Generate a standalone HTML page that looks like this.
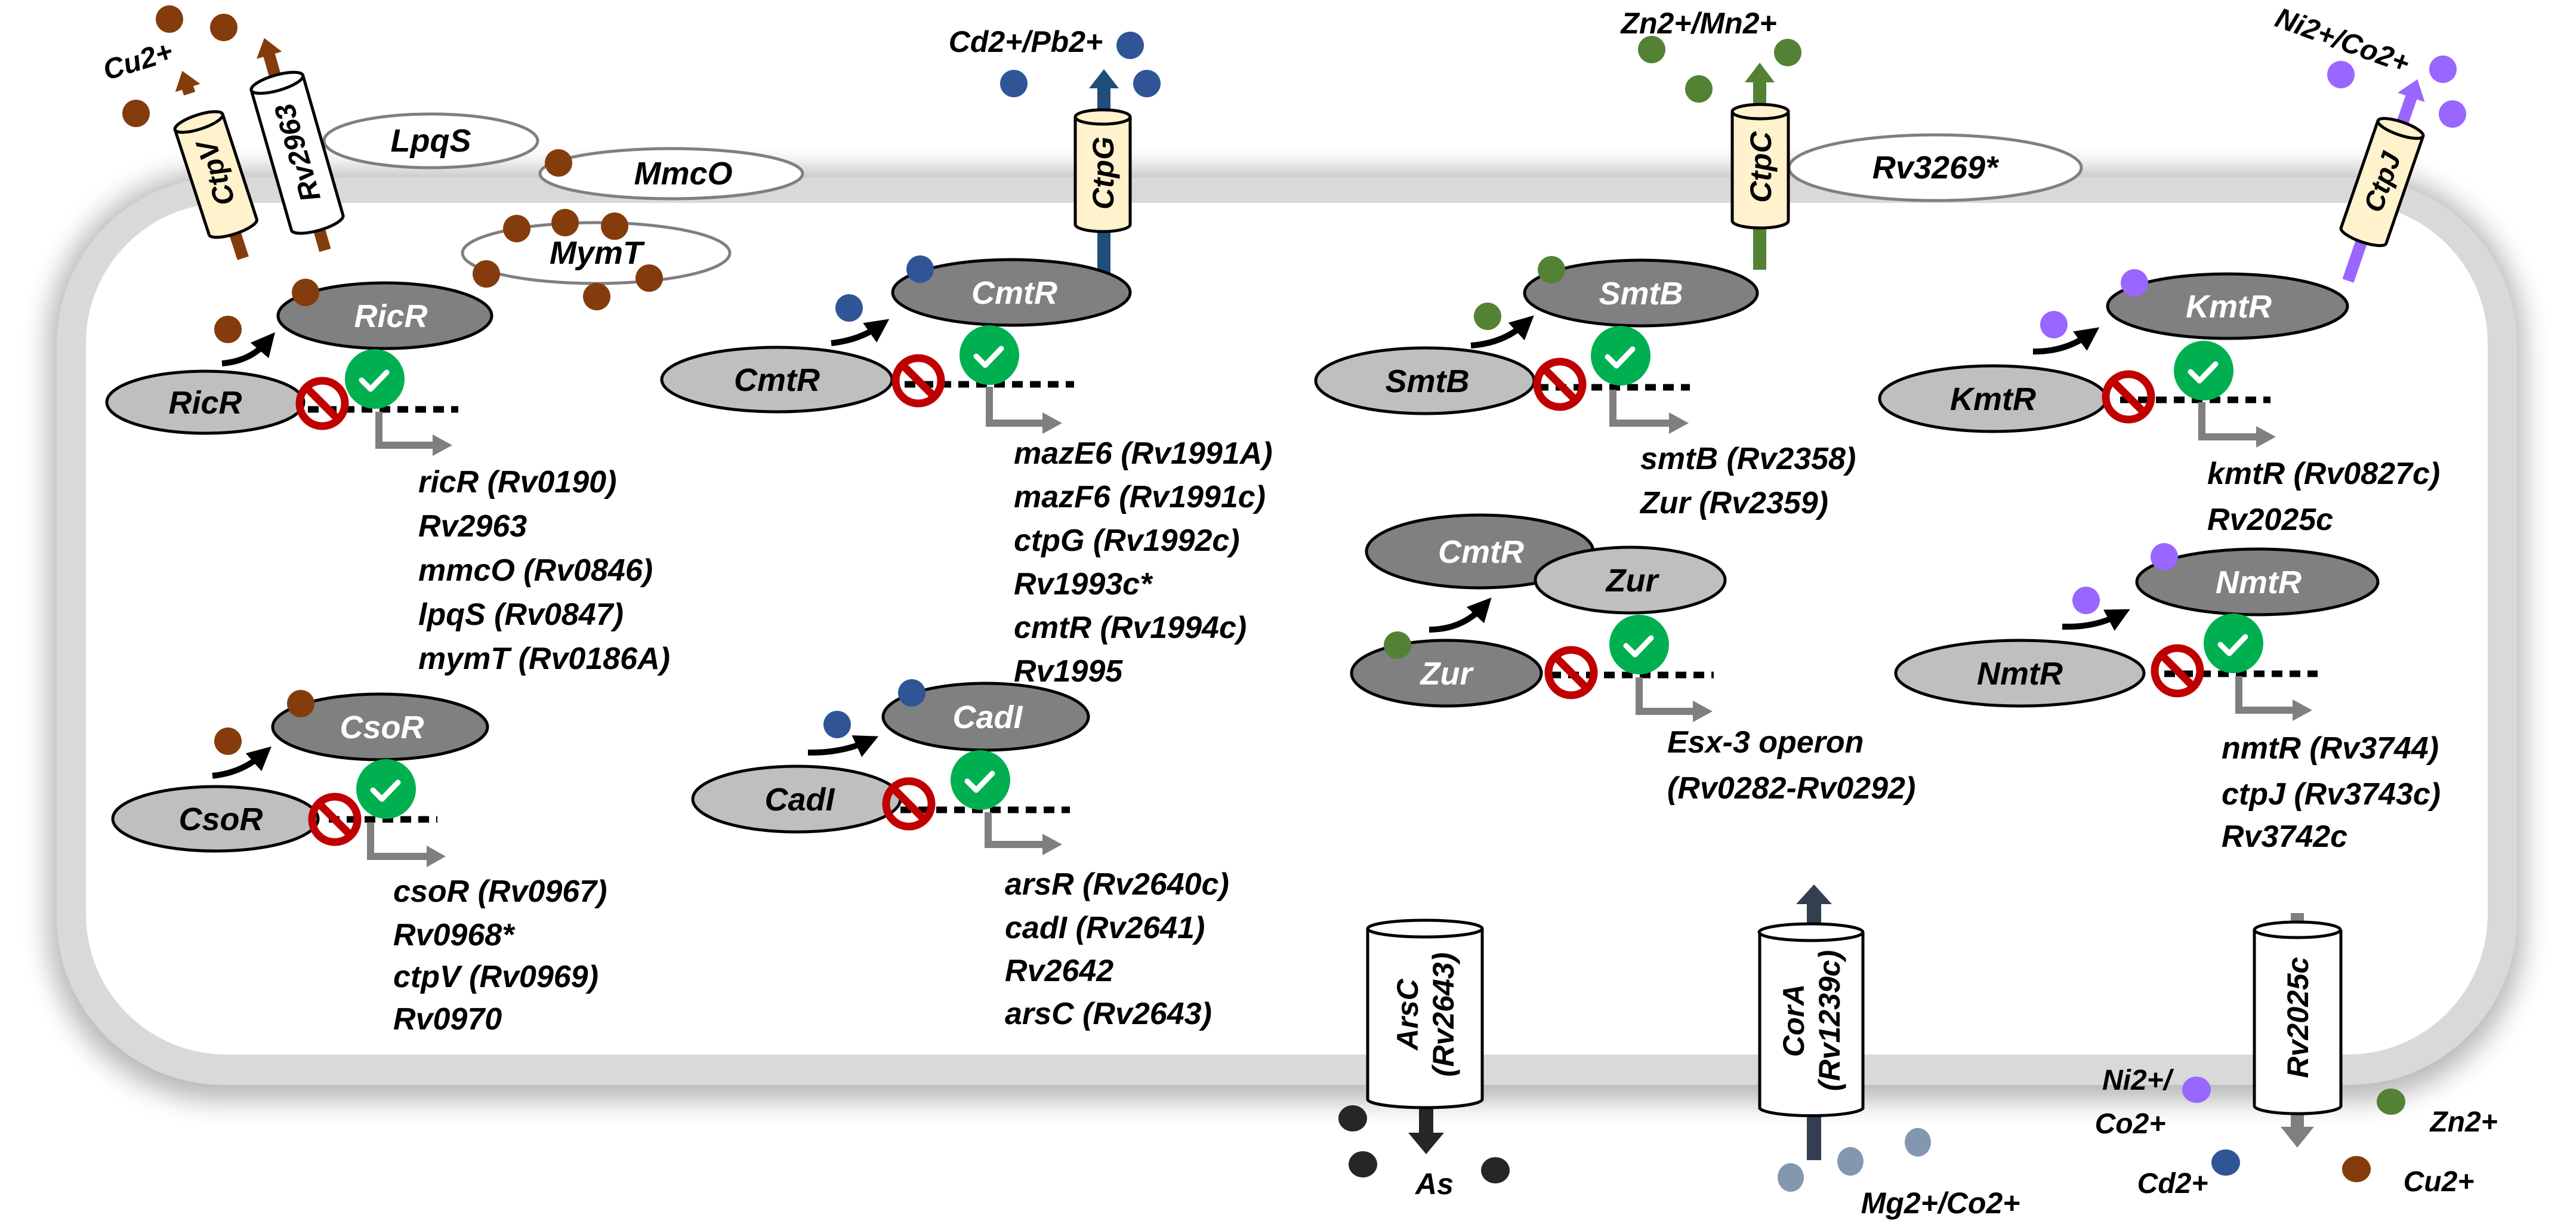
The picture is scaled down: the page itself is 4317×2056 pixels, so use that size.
<!DOCTYPE html>
<html><head><meta charset="utf-8"><style>
html,body{margin:0;padding:0;background:#fff;}
svg{display:block;}
text{font-family:"Liberation Sans",sans-serif;font-weight:bold;font-style:italic;}
.t{font-size:52px;fill:#000;}
.lw{font-size:54px;fill:#fff;text-anchor:middle;}
.lb{font-size:54px;fill:#000;text-anchor:middle;}
.dk{fill:#808080;stroke:#000;stroke-width:5;}
.lt{fill:#bfbfbf;stroke:#000;stroke-width:5;}
.dot{stroke:none;}
.dash{stroke:#000;stroke-width:11;stroke-dasharray:18 12;fill:none;}
.ns{fill:none;stroke:#c00000;stroke-width:13;}
.ck{fill:#00b050;}
.cm{fill:none;stroke:#fff;stroke-width:9;stroke-linecap:round;stroke-linejoin:round;}
.bent{fill:none;stroke:#7f7f7f;stroke-width:12;}
.curve{fill:none;stroke:#000;stroke-width:10;}
.mem{fill:#fff;stroke:#7f7f7f;stroke-width:5;}
.cyl{stroke:#000;stroke-width:5;}
</style></head><body>
<svg width="4317" height="2056" viewBox="0 0 4317 2056" xmlns="http://www.w3.org/2000/svg">
<defs>
<filter id="bl" x="-10%" y="-10%" width="120%" height="120%"><feGaussianBlur stdDeviation="22"/></filter>
<marker id="ah" markerWidth="4" markerHeight="4" refX="2" refY="2" orient="auto" markerUnits="strokeWidth"><path d="M0,0 L4,2 L0,4 z" fill="#000"/></marker>
</defs>

<!-- cell -->
<rect x="80" y="285" width="4150" height="1560" rx="290" fill="#000" opacity="0.28" filter="url(#bl)"/>
<rect x="95" y="297" width="4123" height="1521" rx="280" fill="#d9d9d9"/>
<rect x="144" y="340" width="4025" height="1427" rx="235" fill="#fff"/>

<!-- membrane ellipses -->
<ellipse class="mem" cx="722" cy="236" rx="179" ry="45"/>
<text class="lb" x="722" y="254">LpqS</text>
<ellipse class="mem" cx="1125" cy="291" rx="220" ry="42"/>
<text class="lb" x="1145" y="309">MmcO</text>
<circle class="dot" cx="936" cy="273" r="23" fill="#843c0c"/>
<ellipse class="mem" cx="999" cy="424" rx="224" ry="51"/>
<text class="lb" x="999" y="442">MymT</text>
<g fill="#843c0c"><circle cx="866" cy="383" r="23"/><circle cx="947" cy="373" r="23"/><circle cx="1030" cy="379" r="23"/><circle cx="815" cy="459" r="23"/><circle cx="1000" cy="497" r="23"/><circle cx="1088" cy="466" r="23"/></g>
<ellipse class="mem" cx="3243" cy="281" rx="245" ry="55"/>
<text class="lb" x="3243" y="299">Rv3269*</text>

<!-- Cu2+ outside -->
<text x="231" y="118" font-size="48" text-anchor="middle" transform="rotate(-17 231 102)">Cu2+</text>
<g fill="#843c0c"><circle cx="284" cy="32" r="23"/><circle cx="375" cy="46" r="23"/><circle cx="228" cy="190" r="23"/></g>

<!-- CtpV -->
<g transform="translate(361,290) rotate(-18)">
<rect x="-10" y="-60" width="20" height="210" fill="#843c0c"/>
<polygon points="-22,-150 22,-150 0,-180" fill="#843c0c"/>
<rect x="-10" y="-160" width="20" height="20" fill="#843c0c"/>
<path class="cyl" d="M-42,-90 L-42,95 A42,12 0 0 0 42,95 L42,-90" fill="#fff2cc"/>
<ellipse class="cyl" cx="0" cy="-90" rx="42" ry="12" fill="#fff2cc"/>
<text x="0" y="0" font-size="48" text-anchor="middle" transform="rotate(-90) translate(0,17)">CtpV</text>
</g>
<!-- Rv2963 -->
<g transform="translate(498,256) rotate(-16)">
<rect x="-10" y="100" width="20" height="70" fill="#843c0c"/>
<rect x="-10" y="-175" width="20" height="60" fill="#843c0c"/>
<polygon points="-22,-170 22,-170 0,-200" fill="#843c0c"/>
<path class="cyl" d="M-45,-122 L-45,122 A45,13 0 0 0 45,122 L45,-122" fill="#fff"/>
<ellipse class="cyl" cx="0" cy="-122" rx="45" ry="13" fill="#fff"/>
<text x="0" y="0" font-size="48" text-anchor="middle" transform="rotate(-90) translate(0,17)">Rv2963</text>
</g>

<!-- CtpG -->
<rect x="1839" y="140" width="22" height="323" fill="#1f4e79"/>
<polygon points="1825,148 1875,148 1850,116" fill="#1f4e79"/>
<path class="cyl" d="M1802,196 L1802,376 A46,12 0 0 0 1894,376 L1894,196" fill="#fff2cc"/>
<ellipse class="cyl" cx="1848" cy="196" rx="46" ry="12" fill="#fff2cc"/>
<text x="0" y="0" font-size="50" text-anchor="middle" transform="translate(1866,290) rotate(-90)">CtpG</text>
<text x="1719" y="87" font-size="50" text-anchor="middle">Cd2+/Pb2+</text>
<g fill="#2f5597"><circle cx="1894" cy="76" r="23"/><circle cx="1699" cy="140" r="23"/><circle cx="1922" cy="140" r="23"/></g>

<!-- CtpC -->
<rect x="2938" y="130" width="22" height="322" fill="#548235"/>
<polygon points="2924,138 2974,138 2949,105" fill="#548235"/>
<path class="cyl" d="M2903,187 L2903,370 A47,12 0 0 0 2997,370 L2997,187" fill="#fff2cc"/>
<ellipse class="cyl" cx="2950" cy="187" rx="47" ry="12" fill="#fff2cc"/>
<text x="0" y="0" font-size="50" text-anchor="middle" transform="translate(2968,280) rotate(-90)">CtpC</text>
<text x="2847" y="56" font-size="50" text-anchor="middle">Zn2+/Mn2+</text>
<g fill="#548235"><circle cx="2768" cy="83" r="23"/><circle cx="2996" cy="88" r="23"/><circle cx="2847" cy="149" r="23"/></g>

<!-- CtpJ -->
<g transform="translate(3992,305) rotate(19)">
<rect x="-10" y="-150" width="20" height="325" fill="#9966ff"/>
<polygon points="-24,-150 24,-150 0,-182" fill="#9966ff"/>
<path class="cyl" d="M-40,-95 L-40,95 A40,11 0 0 0 40,95 L40,-95" fill="#fff2cc"/>
<ellipse class="cyl" cx="0" cy="-95" rx="40" ry="11" fill="#fff2cc"/>
<text x="0" y="0" font-size="46" text-anchor="middle" transform="rotate(-90) translate(0,16)">CtpJ</text>
</g>
<text x="3926" y="84" font-size="48" text-anchor="middle" transform="rotate(20 3926 67)">Ni2+/Co2+</text>
<g fill="#9966ff"><circle cx="3923" cy="125" r="23"/><circle cx="4094" cy="116" r="23"/><circle cx="4110" cy="191" r="23"/></g>

<!-- ===== RicR ===== -->
<ellipse class="dk" cx="645" cy="529" rx="179" ry="55"/><text class="lw" x="655" y="548">RicR</text>
<circle cx="512" cy="490" r="23" fill="#843c0c"/>
<circle cx="382" cy="552" r="23" fill="#843c0c"/>
<path class="curve" d="M372,609 Q420,605 448,572" marker-end="url(#ah)"/>
<ellipse class="lt" cx="344" cy="674" rx="165" ry="52"/><text class="lb" x="344" y="693">RicR</text>
<line class="dash" x1="516" y1="686" x2="768" y2="686"/>
<circle class="ns" cx="540" cy="676" r="38"/><line class="ns" x1="513" y1="649" x2="567" y2="703"/>
<circle class="ck" cx="628" cy="635" r="50"/><path class="cm" d="M606,637 L621,652 L648,624"/>
<path class="bent" d="M635,690 V746 H730"/><polygon points="725,728 758,746 725,764" fill="#7f7f7f"/>
<text class="t" x="701" y="825">ricR (Rv0190)</text>
<text class="t" x="701" y="899">Rv2963</text>
<text class="t" x="701" y="973">mmcO (Rv0846)</text>
<text class="t" x="701" y="1047">lpqS (Rv0847)</text>
<text class="t" x="701" y="1121">mymT (Rv0186A)</text>

<!-- ===== CsoR ===== -->
<ellipse class="dk" cx="637" cy="1218" rx="180" ry="55"/><text class="lw" x="640" y="1237">CsoR</text>
<circle cx="504" cy="1179" r="23" fill="#843c0c"/>
<circle cx="382" cy="1242" r="23" fill="#843c0c"/>
<path class="curve" d="M356,1300 Q405,1295 440,1264" marker-end="url(#ah)"/>
<ellipse class="lt" cx="361" cy="1372" rx="172" ry="54"/><text class="lb" x="370" y="1391">CsoR</text>
<line class="dash" x1="551" y1="1373" x2="733" y2="1373"/>
<circle class="ns" cx="561" cy="1373" r="38"/><line class="ns" x1="534" y1="1346" x2="588" y2="1400"/>
<circle class="ck" cx="647" cy="1322" r="50"/><path class="cm" d="M625,1324 L640,1339 L667,1311"/>
<path class="bent" d="M621,1378 V1435 H720"/><polygon points="715,1417 747,1435 715,1453" fill="#7f7f7f"/>
<text class="t" x="659" y="1511">csoR (Rv0967)</text>
<text class="t" x="659" y="1584">Rv0968*</text>
<text class="t" x="659" y="1654">ctpV (Rv0969)</text>
<text class="t" x="659" y="1725">Rv0970</text>

<!-- ===== CmtR ===== -->
<ellipse class="dk" cx="1695" cy="490" rx="199" ry="55"/><text class="lw" x="1700" y="509">CmtR</text>
<circle cx="1542" cy="451" r="23" fill="#2f5597"/>
<circle cx="1423" cy="516" r="23" fill="#2f5597"/>
<path class="curve" d="M1393,575 Q1440,570 1474,546" marker-end="url(#ah)"/>
<ellipse class="lt" cx="1302" cy="636" rx="193" ry="54"/><text class="lb" x="1302" y="655">CmtR</text>
<line class="dash" x1="1516" y1="644" x2="1800" y2="644"/>
<circle class="ns" cx="1539" cy="638" r="38"/><line class="ns" x1="1512" y1="611" x2="1566" y2="665"/>
<circle class="ck" cx="1658" cy="595" r="50"/><path class="cm" d="M1636,597 L1651,612 L1678,584"/>
<path class="bent" d="M1658,648 V709 H1752"/><polygon points="1747,691 1780,709 1747,727" fill="#7f7f7f"/>
<text class="t" x="1699" y="777">mazE6 (Rv1991A)</text>
<text class="t" x="1699" y="850">mazF6 (Rv1991c)</text>
<text class="t" x="1699" y="923">ctpG (Rv1992c)</text>
<text class="t" x="1699" y="996">Rv1993c*</text>
<text class="t" x="1699" y="1069">cmtR (Rv1994c)</text>
<text class="t" x="1699" y="1142">Rv1995</text>

<!-- ===== CadI ===== -->
<ellipse class="dk" cx="1652" cy="1201" rx="172" ry="56"/><text class="lw" x="1655" y="1220">CadI</text>
<circle cx="1528" cy="1161" r="23" fill="#2f5597"/>
<circle cx="1403" cy="1214" r="23" fill="#2f5597"/>
<path class="curve" d="M1354,1261 Q1410,1262 1454,1242" marker-end="url(#ah)"/>
<ellipse class="lt" cx="1335" cy="1339" rx="174" ry="55"/><text class="lb" x="1340" y="1358">CadI</text>
<line class="dash" x1="1509" y1="1357" x2="1793" y2="1357"/>
<circle class="ns" cx="1523" cy="1347" r="38"/><line class="ns" x1="1496" y1="1320" x2="1550" y2="1374"/>
<circle class="ck" cx="1643" cy="1307" r="50"/><path class="cm" d="M1621,1309 L1636,1324 L1663,1296"/>
<path class="bent" d="M1656,1361 V1415 H1752"/><polygon points="1747,1397 1780,1415 1747,1433" fill="#7f7f7f"/>
<text class="t" x="1684" y="1499">arsR (Rv2640c)</text>
<text class="t" x="1684" y="1572">cadI (Rv2641)</text>
<text class="t" x="1684" y="1644">Rv2642</text>
<text class="t" x="1684" y="1716">arsC (Rv2643)</text>

<!-- ===== SmtB ===== -->
<ellipse class="dk" cx="2750" cy="491" rx="195" ry="55"/><text class="lw" x="2750" y="510">SmtB</text>
<circle cx="2600" cy="452" r="23" fill="#548235"/>
<circle cx="2493" cy="530" r="23" fill="#548235"/>
<path class="curve" d="M2465,579 Q2520,575 2556,542" marker-end="url(#ah)"/>
<ellipse class="lt" cx="2388" cy="638" rx="183" ry="55"/><text class="lb" x="2392" y="657">SmtB</text>
<line class="dash" x1="2577" y1="649" x2="2832" y2="649"/>
<circle class="ns" cx="2614" cy="644" r="38"/><line class="ns" x1="2587" y1="617" x2="2641" y2="671"/>
<circle class="ck" cx="2716" cy="596" r="50"/><path class="cm" d="M2694,598 L2709,613 L2736,585"/>
<path class="bent" d="M2703,653 V709 H2802"/><polygon points="2797,691 2830,709 2797,727" fill="#7f7f7f"/>
<text class="t" x="2749" y="786">smtB (Rv2358)</text>
<text class="t" x="2749" y="860">Zur (Rv2359)</text>

<!-- ===== Zur ===== -->
<ellipse class="dk" cx="2480" cy="924" rx="190" ry="61"/><text class="lw" x="2482" y="943">CmtR</text>
<ellipse class="lt" cx="2732" cy="972" rx="159" ry="55"/><text class="lb" x="2735" y="991">Zur</text>
<path class="curve" d="M2395,1055 Q2450,1055 2486,1016" marker-end="url(#ah)"/>
<ellipse class="dk" cx="2424" cy="1128" rx="159" ry="55"/><text class="lw" x="2424" y="1147">Zur</text>
<circle cx="2342" cy="1081" r="23" fill="#548235"/>
<line class="dash" x1="2598" y1="1131" x2="2872" y2="1131"/>
<circle class="ns" cx="2633" cy="1127" r="38"/><line class="ns" x1="2606" y1="1100" x2="2660" y2="1154"/>
<circle class="ck" cx="2747" cy="1080" r="50"/><path class="cm" d="M2725,1082 L2740,1097 L2767,1069"/>
<path class="bent" d="M2747,1135 V1192 H2842"/><polygon points="2837,1174 2870,1192 2837,1210" fill="#7f7f7f"/>
<text class="t" x="2794" y="1261">Esx-3 operon</text>
<text class="t" x="2794" y="1338">(Rv0282-Rv0292)</text>

<!-- ===== KmtR ===== -->
<ellipse class="dk" cx="3733" cy="513" rx="201" ry="54"/><text class="lw" x="3735" y="532">KmtR</text>
<circle cx="3577" cy="474" r="23" fill="#9966ff"/>
<circle cx="3442" cy="544" r="23" fill="#9966ff"/>
<path class="curve" d="M3407,589 Q3460,590 3502,560" marker-end="url(#ah)"/>
<ellipse class="lt" cx="3340" cy="668" rx="190" ry="55"/><text class="lb" x="3340" y="687">KmtR</text>
<line class="dash" x1="3553" y1="670" x2="3805" y2="670"/>
<circle class="ns" cx="3567" cy="665" r="38"/><line class="ns" x1="3540" y1="638" x2="3594" y2="692"/>
<circle class="ck" cx="3693" cy="621" r="50"/><path class="cm" d="M3671,623 L3686,638 L3713,610"/>
<path class="bent" d="M3690,674 V732 H3786"/><polygon points="3781,714 3814,732 3781,750" fill="#7f7f7f"/>
<text class="t" x="3699" y="811">kmtR (Rv0827c)</text>
<text class="t" x="3699" y="888">Rv2025c</text>

<!-- ===== NmtR ===== -->
<ellipse class="dk" cx="3783" cy="975" rx="202" ry="55"/><text class="lw" x="3785" y="994">NmtR</text>
<circle cx="3627" cy="933" r="23" fill="#9966ff"/>
<circle cx="3496" cy="1006" r="23" fill="#9966ff"/>
<path class="curve" d="M3456,1050 Q3510,1052 3552,1030" marker-end="url(#ah)"/>
<ellipse class="lt" cx="3385" cy="1128" rx="208" ry="55"/><text class="lb" x="3385" y="1147">NmtR</text>
<line class="dash" x1="3627" y1="1129" x2="3884" y2="1129"/>
<circle class="ns" cx="3649" cy="1124" r="38"/><line class="ns" x1="3622" y1="1097" x2="3676" y2="1151"/>
<circle class="ck" cx="3743" cy="1078" r="50"/><path class="cm" d="M3721,1080 L3736,1095 L3763,1067"/>
<path class="bent" d="M3752,1133 V1190 H3847"/><polygon points="3842,1172 3875,1190 3842,1208" fill="#7f7f7f"/>
<text class="t" x="3723" y="1271">nmtR (Rv3744)</text>
<text class="t" x="3723" y="1348">ctpJ (Rv3743c)</text>
<text class="t" x="3723" y="1419">Rv3742c</text>

<!-- ===== ArsC ===== -->
<rect x="2378" y="1840" width="24" height="62" fill="#262626"/>
<polygon points="2360,1898 2420,1898 2390,1934" fill="#262626"/>
<path class="cyl" d="M2292,1556 L2292,1842 A96,14 0 0 0 2484,1842 L2484,1556" fill="#fff"/>
<ellipse class="cyl" cx="2388" cy="1556" rx="96" ry="14" fill="#fff"/>
<g transform="translate(2388,1700) rotate(-90)">
<text x="0" y="-12" font-size="50" text-anchor="middle">ArsC</text>
<text x="0" y="48" font-size="50" text-anchor="middle">(Rv2643)</text>
</g>
<g fill="#262626"><ellipse cx="2267" cy="1874" rx="24" ry="22"/><ellipse cx="2284" cy="1951" rx="24" ry="22"/><ellipse cx="2506" cy="1961" rx="24" ry="22"/></g>
<text x="2404" y="2001" font-size="50" text-anchor="middle">As</text>

<!-- ===== CorA ===== -->
<rect x="3028" y="1510" width="24" height="434" fill="#333f50"/>
<polygon points="3010,1515 3070,1515 3040,1482" fill="#333f50"/>
<path class="cyl" d="M2949,1562 L2949,1857 A87,14 0 0 0 3122,1857 L3122,1562" fill="#fff"/>
<ellipse class="cyl" cx="3035" cy="1562" rx="87" ry="14" fill="#fff"/>
<g transform="translate(3035,1710) rotate(-90)">
<text x="0" y="-12" font-size="50" text-anchor="middle">CorA</text>
<text x="0" y="48" font-size="50" text-anchor="middle">(Rv1239c)</text>
</g>
<g fill="#8497b0"><ellipse cx="3001" cy="1973" rx="22" ry="24"/><ellipse cx="3101" cy="1946" rx="22" ry="24"/><ellipse cx="3214" cy="1914" rx="22" ry="24"/></g>
<text x="3252" y="2033" font-size="50" text-anchor="middle">Mg2+/Co2+</text>

<!-- ===== Rv2025c ===== -->
<rect x="3839" y="1530" width="22" height="360" fill="#7f7f7f"/>
<polygon points="3822,1888 3878,1888 3850,1923" fill="#7f7f7f"/>
<path class="cyl" d="M3778,1558 L3778,1853 A72,13 0 0 0 3923,1853 L3923,1558" fill="#fff"/>
<ellipse class="cyl" cx="3850" cy="1558" rx="72" ry="13" fill="#fff"/>
<text x="0" y="0" font-size="50" text-anchor="middle" transform="translate(3868,1705) rotate(-90)">Rv2025c</text>
<text x="3581" y="1826" font-size="48" text-anchor="middle">Ni2+/</text>
<text x="3570" y="1899" font-size="48" text-anchor="middle">Co2+</text>
<ellipse cx="3681" cy="1826" rx="24" ry="22" fill="#9966ff"/>
<ellipse cx="4007" cy="1846" rx="24" ry="22" fill="#548235"/>
<text x="4129" y="1896" font-size="48" text-anchor="middle">Zn2+</text>
<ellipse cx="3730" cy="1948" rx="24" ry="22" fill="#2f5597"/>
<text x="3641" y="1999" font-size="48" text-anchor="middle">Cd2+</text>
<ellipse cx="3949" cy="1959" rx="24" ry="22" fill="#843c0c"/>
<text x="4087" y="1996" font-size="48" text-anchor="middle">Cu2+</text>
</svg>
</body></html>
